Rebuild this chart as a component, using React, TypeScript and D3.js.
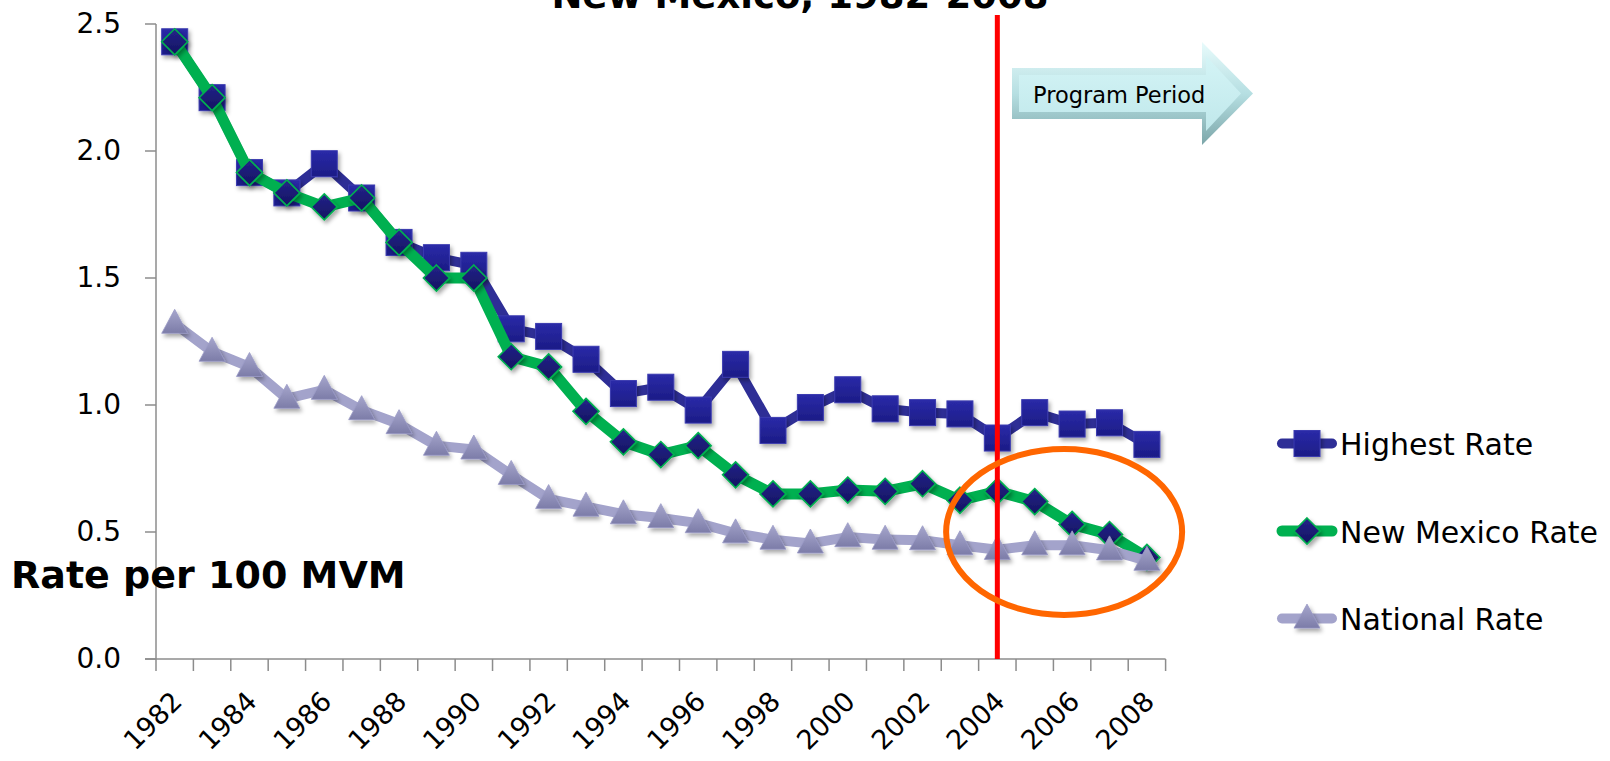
import React from "react";
import * as d3 from "d3";

const years = [
  "1982", "1983", "1984", "1985", "1986", "1987", "1988", "1989", "1990",
  "1991", "1992", "1993", "1994", "1995", "1996", "1997", "1998", "1999",
  "2000", "2001", "2002", "2003", "2004", "2005", "2006", "2007", "2008",
];
const highestRate = [
  2.43, 2.21, 1.915, 1.835, 1.95, 1.815, 1.64, 1.58, 1.55,
  1.3, 1.27, 1.18, 1.045, 1.07, 0.98, 1.16, 0.9, 0.99,
  1.06, 0.985, 0.97, 0.965, 0.87, 0.97, 0.925, 0.93, 0.845,
];
const newMexicoRate = [
  2.43, 2.21, 1.915, 1.835, 1.78, 1.815, 1.64, 1.5, 1.5,
  1.19, 1.15, 0.975, 0.855, 0.805, 0.84, 0.725, 0.65, 0.65,
  0.665, 0.66, 0.69, 0.625, 0.66, 0.62, 0.53, 0.49, 0.4,
];
const nationalRate = [
  1.32, 1.21, 1.15, 1.025, 1.06, 0.98, 0.925, 0.84, 0.825,
  0.725, 0.63, 0.6, 0.57, 0.555, 0.535, 0.495, 0.47, 0.455,
  0.48, 0.47, 0.468, 0.448, 0.43, 0.448, 0.448, 0.428, 0.387,
];
const yTicks = [0, 0.5, 1.0, 1.5, 2.0, 2.5];
const labelYears = ["1982", "1984", "1986", "1988", "1990", "1992", "1994", "1996", "1998", "2000", "2002", "2004", "2006", "2008"];
const seriesNames = ["Highest Rate", "New Mexico Rate", "National Rate"];
const titleText = "New Mexico, 1982-2008";
const yAxisLabel = "Rate per 100 MVM";
const arrowText = "Program Period";
const programStart = "2004";

const FONT = "'DejaVu Sans', sans-serif";

type Marker = "square" | "diamond" | "triangle";

function markerShape(kind: Marker, cx: number, cy: number, key: string | number) {
  if (kind === "square") {
    return (
      <rect key={key} x={cx - 13} y={cy - 13} width={26} height={26}
        fill="url(#gSquare)" stroke="#3b3bb0" strokeWidth={1} filter="url(#shadow)" />
    );
  }
  if (kind === "diamond") {
    const r = 13;
    return (
      <path key={key} d={`M${cx},${cy - r}L${cx + r},${cy}L${cx},${cy + r}L${cx - r},${cy}Z`}
        fill="url(#gDiamond)" stroke="#00B050" strokeWidth={1.6} filter="url(#shadow)" />
    );
  }
  const h = 24, w = 26;
  return (
    <path key={key} d={`M${cx},${cy - h * 0.6}L${cx + w / 2},${cy + h * 0.4}L${cx - w / 2},${cy + h * 0.4}Z`}
      fill="url(#gTriangle)" stroke="#9a9ac6" strokeWidth={0.8} filter="url(#shadow)" />
  );
}

export default function App() {
  const W = 1610, H = 761;
  const x = d3.scaleBand<string>().domain(years).range([156, 1165.6]).paddingInner(0).paddingOuter(0);
  const y = d3.scaleLinear().domain([0, 2.5]).range([659, 24]);
  const cx = (yr: string) => (x(yr) as number) + x.bandwidth() / 2;

  const series = [
    { name: seriesNames[0], values: highestRate, color: "#2E2E96", width: 10, marker: "square" as Marker },
    { name: seriesNames[1], values: newMexicoRate, color: "#00B050", width: 11, marker: "diamond" as Marker },
    { name: seriesNames[2], values: nationalRate, color: "#A3A3CB", width: 10, marker: "triangle" as Marker },
  ];

  const line = d3.line<number>()
    .x((_, i) => cx(years[i]))
    .y((v) => y(v))
    .curve(d3.curveLinear);

  const x0 = x.range()[0];
  const x1 = x.range()[1];
  const y0 = y(0);
  const boundaries = years.map((yr) => x(yr) as number).concat([x1]);

  const redX = cx(programStart);
  const fmt = d3.format(".1f");

  // arrow geometry
  const ax0 = 1012, ay0 = 68, ay1 = 119, ahx = 1202, aht = 42, ahb = 145, atx = 1253, aty = 93.5;
  const arrowPts = [[ax0, ay0], [ahx, ay0], [ahx, aht], [atx, aty], [ahx, ahb], [ahx, ay1], [ax0, ay1]];
  const inset = 7;
  const innerPts = [[ax0 + inset, ay0 + inset], [ahx + 4, ay0 + inset], [ahx + 4, aht + 14], [atx - 12, aty], [ahx + 4, ahb - 14], [ahx + 4, ay1 - inset], [ax0 + inset, ay1 - inset]];

  const legendX = 1277, legendRows = [443.5, 531, 618.5];

  return (
    <svg width={W} height={H} viewBox={`0 0 ${W} ${H}`}
      style={{ position: "absolute", left: 0, top: 0, background: "#fff" }}>
      <defs>
        <filter id="shadow" x="-50%" y="-50%" width="200%" height="200%">
          <feDropShadow dx="2" dy="3" stdDeviation="2" floodColor="#000" floodOpacity="0.35" />
        </filter>
        <linearGradient id="gSquare" x1="0" y1="0" x2="0" y2="1">
          <stop offset="0" stopColor="#2A2AA8" />
          <stop offset="1" stopColor="#1C1C86" />
        </linearGradient>
        <linearGradient id="gDiamond" x1="0" y1="0" x2="0" y2="1">
          <stop offset="0" stopColor="#23238A" />
          <stop offset="1" stopColor="#141460" />
        </linearGradient>
        <linearGradient id="gTriangle" x1="0" y1="0" x2="0" y2="1">
          <stop offset="0" stopColor="#A6A6CC" />
          <stop offset="1" stopColor="#7C7CA8" />
        </linearGradient>
        <linearGradient id="gArrowOuter" x1="0" y1="0" x2="0" y2="1">
          <stop offset="0" stopColor="#E8FBFC" />
          <stop offset="0.5" stopColor="#B6DFE2" />
          <stop offset="1" stopColor="#7CA6A9" />
        </linearGradient>
        <linearGradient id="gArrowInner" x1="0" y1="0" x2="0" y2="1">
          <stop offset="0" stopColor="#D4F4F6" />
          <stop offset="1" stopColor="#C0E8EB" />
        </linearGradient>
      </defs>

      {/* title (top part lies above the picture, as in the reference) */}
      <text x={800} y={8} textAnchor="middle" fontFamily={FONT} fontWeight="bold" fontSize={37} fill="#000">
        {titleText}
      </text>

      {/* y axis */}
      <line x1={x0} x2={x0} y1={y(2.5)} y2={y0} stroke="#8c8c8c" strokeWidth={1.5} />
      {yTicks.map((t) => (
        <g key={t}>
          <line x1={x0 - 11} x2={x0} y1={y(t)} y2={y(t)} stroke="#8c8c8c" strokeWidth={1.5} />
          <text x={121} y={y(t) + 8.5} textAnchor="end" fontFamily={FONT} fontSize={28} fill="#000">
            {fmt(t)}
          </text>
        </g>
      ))}

      {/* x axis */}
      <line x1={x0 - 11} x2={x1} y1={y0} y2={y0} stroke="#8c8c8c" strokeWidth={1.5} />
      {boundaries.map((b, i) => (
        <line key={i} x1={b} x2={b} y1={y0} y2={y0 + 12} stroke="#8c8c8c" strokeWidth={1.5} />
      ))}
      {labelYears.map((yr) => {
        const ex = cx(yr) + 9, ey = 703;
        return (
          <text key={yr} x={ex} y={ey} textAnchor="end" fontFamily={FONT} fontSize={27} fill="#000"
            transform={`rotate(-45 ${ex} ${ey})`}>
            {yr}
          </text>
        );
      })}

      {/* series */}
      {series.map((s) => (
        <g key={s.name}>
          <path d={line(s.values) || ""} fill="none" stroke={s.color} strokeWidth={s.width}
            strokeLinejoin="round" strokeLinecap="round" />
          {s.values.map((v, i) => markerShape(s.marker, cx(years[i]), y(v), i))}
        </g>
      ))}

      {/* program start line */}
      <line x1={redX} x2={redX} y1={15} y2={y0} stroke="#FF0000" strokeWidth={5} />

      {/* highlight ellipse */}
      <ellipse cx={cx("2006") - 8} cy={y(0.5)} rx={118} ry={83} fill="none" stroke="#FF6600" strokeWidth={6} />

      {/* program period arrow */}
      <polygon points={arrowPts.map((p) => p.join(",")).join(" ")} fill="url(#gArrowOuter)" />
      <polygon points={innerPts.map((p) => p.join(",")).join(" ")} fill="url(#gArrowInner)" />
      <text x={1033} y={103} fontFamily={FONT} fontSize={22.5} fill="#000">{arrowText}</text>

      {/* y-axis label */}
      <text x={11} y={588} fontFamily={FONT} fontWeight="bold" fontSize={38} fill="#000">{yAxisLabel}</text>

      {/* legend */}
      {series.map((s, i) => (
        <g key={s.name}>
          <line x1={legendX + 5} x2={legendX + 55} y1={legendRows[i]} y2={legendRows[i]}
            stroke={s.color} strokeWidth={s.width} strokeLinecap="round" />
          {markerShape(s.marker, legendX + 30, legendRows[i], "m")}
          <text x={1340} y={legendRows[i] + 11.5} fontFamily={FONT} fontSize={30} fill="#000">{s.name}</text>
        </g>
      ))}
    </svg>
  );
}
